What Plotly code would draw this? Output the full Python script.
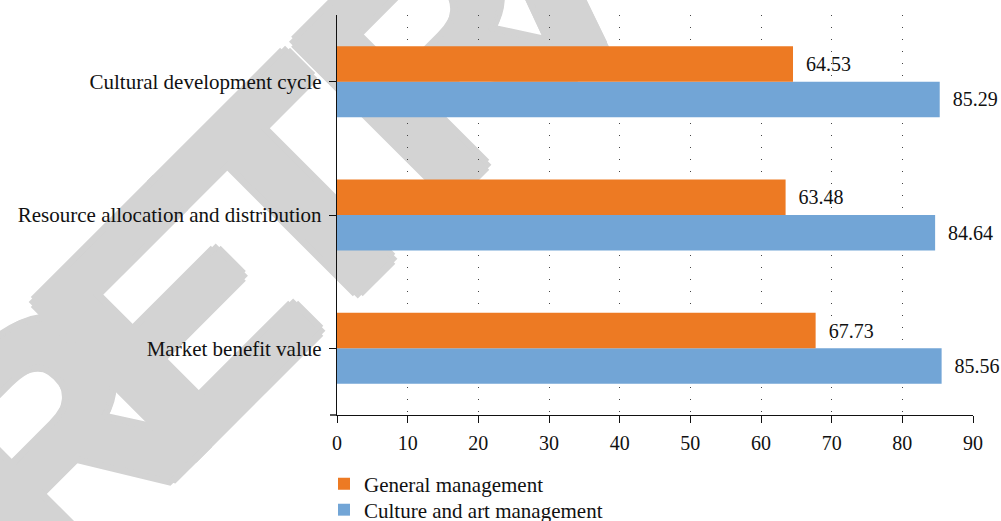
import math
import plotly.graph_objects as go

categories = ["Market benefit value", "Resource allocation and distribution", "Cultural development cycle"]
general_vals = [67.73, 63.48, 64.53]
culture_vals = [85.56, 84.64, 85.29]
x_ticks = [0, 10, 20, 30, 40, 50, 60, 70, 80, 90]

FONT = "Liberation Serif"
ORANGE = "#ED7A23"
BLUE = "#72A5D6"
INK = "#111111"
WM = "#D3D3D3"

# figure geometry (page body margin removed below, so page px == figure px)
W, H = 1001, 521
L, R, T, B = 337, 28, 15, 106
pw, ph = W - L - R, H - T - B


def pxp(xp):  # pixel x -> paper
    return (xp - L) / pw


def pyp(yp):  # pixel y -> paper
    return (H - B - yp) / ph


fig = go.Figure()
fig.add_trace(go.Bar(
    y=categories, x=culture_vals, orientation="h", name="Culture and art management",
    marker=dict(color=BLUE, line=dict(width=0)), legend="legend2",
    texttemplate="\u00a0\u00a0%{x:.2f}", textposition="outside",
    textfont=dict(family=FONT, size=20, color=INK), cliponaxis=False,
))
fig.add_trace(go.Bar(
    y=categories, x=general_vals, orientation="h", name="General management",
    marker=dict(color=ORANGE, line=dict(width=0)), legend="legend",
    texttemplate="\u00a0\u00a0%{x:.2f}", textposition="outside",
    textfont=dict(family=FONT, size=20, color=INK), cliponaxis=False,
))

# watermark "RETRACTED", letter by letter, drawn below the traces
wm_letters = list("RETRACTED")
wm_u = [-275, -103, 70, 274, 454, 630, 800, 970, 1140]
wm_d = 318
s2 = math.sqrt(2)
k = 7
shadow = ", ".join(f"{dx}px {dy}px 0 {WM}" for dx, dy in
                   [(k, 0), (-k, 0), (0, k), (0, -k), (5, 5), (-5, 5), (5, -5), (-5, -5)])
for ch, u in zip(wm_letters, wm_u):
    xp = (u + wm_d) / s2
    yp = (wm_d - u) / s2
    fig.add_shape(type="rect", xref="paper", yref="paper",
                  x0=pxp(xp - 1), x1=pxp(xp + 1), y0=pyp(yp + 1), y1=pyp(yp - 1),
                  line=dict(width=0), fillcolor="rgba(0,0,0,0)", layer="below",
                  label=dict(text=ch, textangle=-45, textposition="middle center",
                             font=dict(family="Liberation Sans Narrow, Liberation Sans",
                                       size=320, color=WM, weight="bold", shadow=shadow)))

# small extension of the x axis line to the left (as in the reference)
fig.add_shape(type="line", xref="paper", yref="paper", xsizemode="pixel", xanchor=0,
              x0=-7, x1=0, y0=0, y1=0, line=dict(color=INK, width=1.4), layer="above")

leg_common = dict(orientation="v", xanchor="left", yanchor="middle",
                  font=dict(family=FONT, size=21, color=INK),
                  bgcolor="rgba(0,0,0,0)", borderwidth=0)
fig.update_layout(
    width=W, height=H,
    margin=dict(l=L, r=R, t=T, b=B, pad=0, autoexpand=False),
    barmode="group", bargap=0.467, bargroupgap=0,
    plot_bgcolor="rgba(0,0,0,0)", paper_bgcolor="white",
    font=dict(family=FONT, size=20, color=INK),
    showlegend=True,
    legend=dict(x=pxp(324), y=pyp(484), **leg_common),
    legend2=dict(x=pxp(324), y=pyp(510), **leg_common),
    xaxis=dict(range=[0, 90], tickvals=x_ticks, showgrid=True, gridcolor="#444444",
               griddash="1px,11px", gridwidth=1, zeroline=False,
               showline=True, linecolor=INK, linewidth=1.4,
               ticks="outside", ticklen=7, tickcolor=INK, tickwidth=1.4,
               ticklabelstandoff=3,
               tickfont=dict(family=FONT, size=20, color=INK), fixedrange=True),
    yaxis=dict(categoryorder="array", categoryarray=categories, showgrid=False,
               zeroline=False, showline=True, linecolor=INK, linewidth=1.4,
               ticks="outside", ticklen=7, tickcolor=INK, tickwidth=1.4,
               ticklabelstandoff=3,
               tickfont=dict(family=FONT, size=21, color=INK), fixedrange=True),
)

fig.write_html(
    "out.html",
    config={"displayModeBar": False},
    post_script="document.body.style.margin='0px';document.body.style.overflow='hidden';",
)
